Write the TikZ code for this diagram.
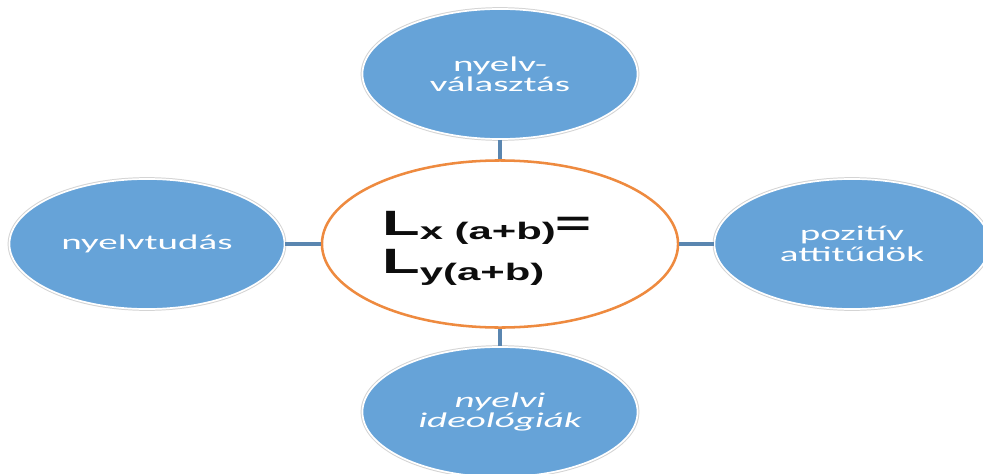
\documentclass[tikz,border=0pt]{standalone}
\usepackage{fontspec}
\setmainfont{Carlito}[FakeStretch=1.85]
\newfontfamily\formulafont{Liberation Sans}[FakeStretch=1.75]
\usepackage{tikz}
\usetikzlibrary{shapes.geometric}
\definecolor{bubblefill}{HTML}{66A3D8}
\definecolor{bubbleedge}{HTML}{D4D4D4}
\definecolor{stem}{HTML}{5A86B0}
\definecolor{hubline}{HTML}{EE8A3F}
\definecolor{ink}{HTML}{0D0D0D}
\tikzset{
  x=0.025cm, y=-0.025cm,
  bubble/.style={ellipse,minimum width=6.875cm,minimum height=3.25cm,inner sep=0pt,
    fill=bubblefill,draw=white,line width=1.2pt,
    preaction={draw=bubbleedge,line width=2.6pt},
    text=white,align=center,font=\fontsize{15pt}{14.5pt}\selectfont},
  hub/.style={ellipse,minimum width=8.9cm,minimum height=4.175cm,inner sep=0pt,
    fill=white,draw=hubline,line width=1.8pt},
  formula/.style={anchor=west,align=left,inner sep=0pt,text=ink,
    font=\formulafont\bfseries\fontsize{25pt}{27pt}\selectfont},
  stemline/.style={draw=stem,line width=2.2pt},
}
\newcommand{\lsub}[1]{\raisebox{-3pt}{\fontsize{17pt}{18pt}\selectfont #1}}

\begin{document}
\begin{tikzpicture}
  \clip (0,0) rectangle (983,473);
  \fill[white] (0,0) rectangle (983,473);
  % centre
  \node[hub] (hub) at (500,244) {};
  \node[formula] (law) at (382,248) {L\lsub{x (a+b)}=\\L\raisebox{-2pt}{\lsub{y(a+b)}}};
  % outer bubbles
  \node[bubble] (choice) at (500,74) {nyelv-\\választás};
  \node[bubble] (skill) at (147,244) {nyelvtudás};
  \node[bubble] (attitude) at (852,244) {pozitív\\attitűdök};
  \node[bubble,font=\fontsize{15pt}{14.5pt}\selectfont\itshape] (ideology) at (500,412) {nyelvi\\ideológiák};
  % stems
  \draw[stemline] (choice) -- (hub);
  \draw[stemline] (skill) -- (hub);
  \draw[stemline] (attitude) -- (hub);
  \draw[stemline] (ideology) -- (hub);
\end{tikzpicture}
\end{document}
